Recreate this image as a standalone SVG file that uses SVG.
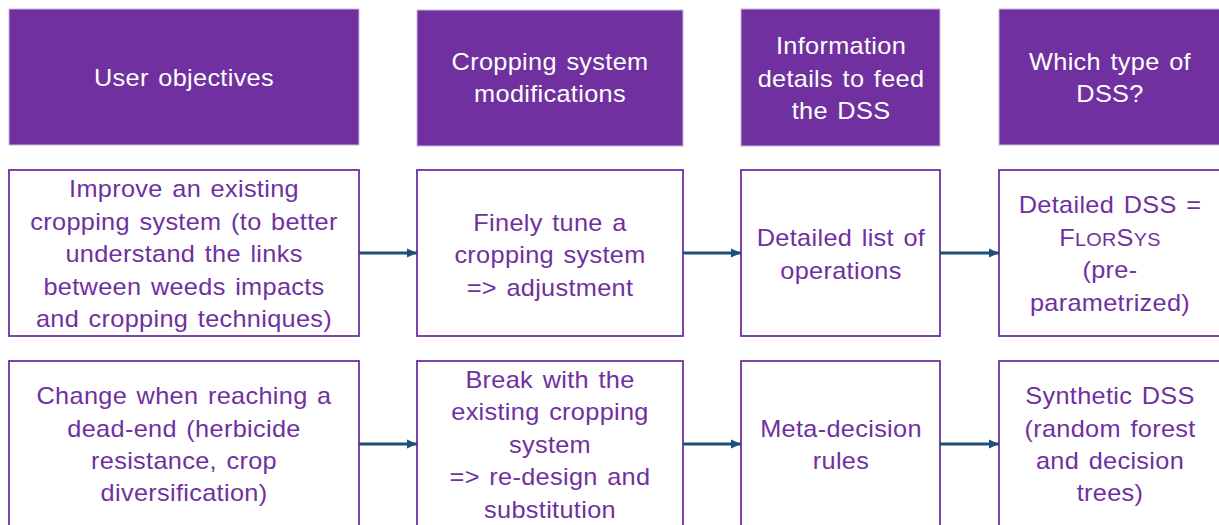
<svg xmlns="http://www.w3.org/2000/svg" width="1219" height="525" viewBox="0 0 1219 525">
<style>
.hdr{fill:#7030A0;stroke:#cdb8de;stroke-width:1}
.box{fill:#ffffff;stroke:#7030A0;stroke-width:1.8}
text{font-family:"Liberation Sans",Arial,sans-serif;font-size:23px;text-anchor:middle;letter-spacing:0.3px;word-spacing:2px}
.ht{fill:#ffffff}
.bt{fill:#7030A0}
.sc{font-size:18px}
.arr{stroke:#1F4E79;stroke-width:3;fill:none;marker-end:url(#ah)}
</style>
<defs>
<marker id="ah" markerUnits="userSpaceOnUse" markerWidth="10" markerHeight="10" refX="10" refY="5" orient="auto">
<path d="M0,0.5 L10,5 L0,9.5 Z" fill="#1F4E79"/>
</marker>
</defs>
<rect width="1219" height="525" fill="#ffffff"/>
<g id="h1"><rect class="hdr" x="9" y="9" width="350" height="136"/><text class="ht" transform="translate(184 86) scale(1.1 1)">User objectives</text></g>
<g id="h2"><rect class="hdr" x="417" y="10" width="266" height="136"/><text class="ht" transform="translate(550 70) scale(1.1 1)">Cropping system</text><text class="ht" transform="translate(550 102) scale(1.1 1)">modifications</text></g>
<g id="h3"><rect class="hdr" x="741" y="9" width="199" height="137"/><text class="ht" transform="translate(841 54) scale(1.1 1)">Information</text><text class="ht" transform="translate(841 87) scale(1.1 1)">details to feed</text><text class="ht" transform="translate(841 119) scale(1.1 1)">the DSS</text></g>
<g id="h4"><rect class="hdr" x="999" y="9" width="224" height="136"/><text class="ht" transform="translate(1110 70) scale(1.1 1)">Which type of</text><text class="ht" transform="translate(1110 102) scale(1.1 1)">DSS?</text></g>

<g id="r1c1"><rect class="box" x="9" y="170" width="350" height="166"/>
<text class="bt" transform="translate(184 197) scale(1.1 1)">Improve an existing</text>
<text class="bt" transform="translate(184 230) scale(1.1 1)">cropping system (to better</text>
<text class="bt" transform="translate(184 262) scale(1.1 1)">understand the links</text>
<text class="bt" transform="translate(184 295) scale(1.1 1)">between weeds impacts</text>
<text class="bt" transform="translate(184 327) scale(1.1 1)">and cropping techniques)</text></g>
<g id="r1c2"><rect class="box" x="417" y="170" width="266" height="166"/>
<text class="bt" transform="translate(550 231) scale(1.1 1)">Finely tune a</text>
<text class="bt" transform="translate(550 263) scale(1.1 1)">cropping system</text>
<text class="bt" transform="translate(550 296) scale(1.1 1)">=&gt; adjustment</text></g>
<g id="r1c3"><rect class="box" x="741" y="170" width="199" height="166"/>
<text class="bt" transform="translate(841 246) scale(1.1 1)">Detailed list of</text>
<text class="bt" transform="translate(841 279) scale(1.1 1)">operations</text></g>
<g id="r1c4"><rect class="box" x="999" y="170" width="224" height="166"/>
<text class="bt" transform="translate(1110 213) scale(1.1 1)">Detailed DSS =</text>
<text class="bt" transform="translate(1110 246) scale(1.1 1)">F<tspan class="sc">LOR</tspan>S<tspan class="sc">YS</tspan></text>
<text class="bt" transform="translate(1110 278) scale(1.1 1)">(pre-</text>
<text class="bt" transform="translate(1110 311) scale(1.1 1)">parametrized)</text></g>

<g id="r2c1"><rect class="box" x="9" y="361" width="350" height="180"/>
<text class="bt" transform="translate(184 404) scale(1.1 1)">Change when reaching a</text>
<text class="bt" transform="translate(184 437) scale(1.1 1)">dead-end (herbicide</text>
<text class="bt" transform="translate(184 469) scale(1.1 1)">resistance, crop</text>
<text class="bt" transform="translate(184 501) scale(1.1 1)">diversification)</text></g>
<g id="r2c2"><rect class="box" x="417" y="361" width="266" height="180"/>
<text class="bt" transform="translate(550 388) scale(1.1 1)">Break with the</text>
<text class="bt" transform="translate(550 420) scale(1.1 1)">existing cropping</text>
<text class="bt" transform="translate(550 453) scale(1.1 1)">system</text>
<text class="bt" transform="translate(550 485) scale(1.1 1)">=&gt; re-design and</text>
<text class="bt" transform="translate(550 518) scale(1.1 1)">substitution</text></g>
<g id="r2c3"><rect class="box" x="741" y="361" width="199" height="180"/>
<text class="bt" transform="translate(841 437) scale(1.1 1)">Meta-decision</text>
<text class="bt" transform="translate(841 469) scale(1.1 1)">rules</text></g>
<g id="r2c4"><rect class="box" x="999" y="361" width="224" height="180"/>
<text class="bt" transform="translate(1110 404) scale(1.1 1)">Synthetic DSS</text>
<text class="bt" transform="translate(1110 437) scale(1.1 1)">(random forest</text>
<text class="bt" transform="translate(1110 469) scale(1.1 1)">and decision</text>
<text class="bt" transform="translate(1110 501) scale(1.1 1)">trees)</text></g>

<g id="connectors">
<line class="arr" x1="359" y1="253" x2="417" y2="253"/>
<line class="arr" x1="683" y1="253" x2="741" y2="253"/>
<line class="arr" x1="940" y1="253" x2="999" y2="253"/>
<line class="arr" x1="359" y1="444" x2="417" y2="444"/>
<line class="arr" x1="683" y1="444" x2="741" y2="444"/>
<line class="arr" x1="940" y1="444" x2="999" y2="444"/>
</g>
</svg>
